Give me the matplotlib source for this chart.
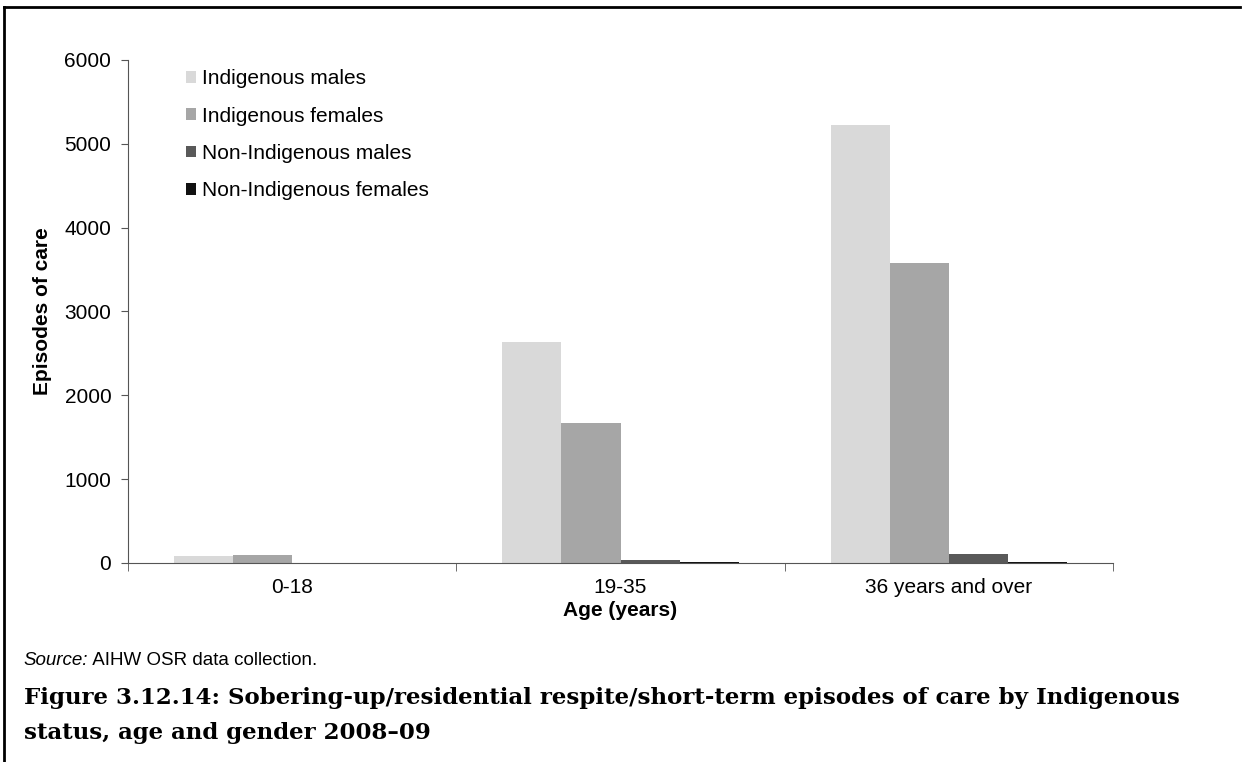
import numpy as np
import matplotlib.pyplot as plt
from matplotlib.lines import Line2D

plt.rcParams['font.family'] = ['Liberation Sans', 'DejaVu Sans']

ages = ["0-18", "19-35", "36 years and over"]
series = ["Indigenous males", "Indigenous females", "Non-Indigenous males", "Non-Indigenous females"]
ind_males = [80, 2640, 5230]
ind_females = [100, 1670, 3580]
nonind_males = [5, 40, 110]
nonind_females = [3, 10, 15]
colors = ["#d9d9d9", "#a6a6a6", "#595959", "#111111"]

values = [ind_males, ind_females, nonind_males, nonind_females]

fig = plt.figure(figsize=(12.45, 7.62), dpi=100)
ax = fig.add_axes([0.1028, 0.2612, 0.7912, 0.6601])

x = np.arange(len(ages))
w = 0.18
for i, (vals, name, c) in enumerate(zip(values, series, colors)):
    ax.bar(x + (i - 1.5) * w, vals, w, color=c, label=name)

ax.set_xlim(-0.5, 2.5)
ax.set_ylim(0, 6000)
ax.set_yticks(range(0, 6001, 1000))
ax.set_xticks(x)
ax.set_xticklabels(ages, fontsize=15)
ax.set_xticks([-0.5, 0.5, 1.5, 2.5], minor=True)
ax.tick_params(axis='x', which='major', length=0, pad=11)
ax.tick_params(axis='x', which='minor', length=6, color='#555555', direction='out')
ax.tick_params(axis='y', labelsize=15, length=5, color='#555555', direction='out', pad=7)
for s in ['top', 'right']:
    ax.spines[s].set_visible(False)
for s in ['left', 'bottom']:
    ax.spines[s].set_color('#555555')

ax.set_ylabel("Episodes of care", fontsize=15, fontweight='bold', labelpad=9)
ax.set_xlabel("Age (years)", fontsize=15, fontweight='bold', labelpad=3)

leg = ax.legend(loc='upper left', bbox_to_anchor=(0.05, 0.998), frameon=False, fontsize=15,
                handlelength=0.48, handleheight=0.48, handletextpad=0.3, labelspacing=0.88,
                borderaxespad=0)

src = fig.text(0.019, 0.133, "Source:", fontsize=13.5, style='italic', va='center')
ax.annotate(" AIHW OSR data collection.", xy=(1, 0.5), xycoords=src, fontsize=13.5,
            va='center', ha='left', annotation_clip=False)
fig.text(0.019, 0.084, "Figure 3.12.14: Sobering-up/residential respite/short-term episodes of care by Indigenous",
         fontsize=16.5, fontweight='bold', family=['DejaVu Serif'], va='center')
fig.text(0.019, 0.038, "status, age and gender 2008\u201309",
         fontsize=16.5, fontweight='bold', family=['DejaVu Serif'], va='center')

fig.add_artist(Line2D([0.003, 0.996], [0.991, 0.991], color='black', lw=2, transform=fig.transFigure))
fig.add_artist(Line2D([0.0035, 0.0035], [0.0, 0.991], color='black', lw=2, transform=fig.transFigure))

fig.savefig("out.png", dpi=100)
